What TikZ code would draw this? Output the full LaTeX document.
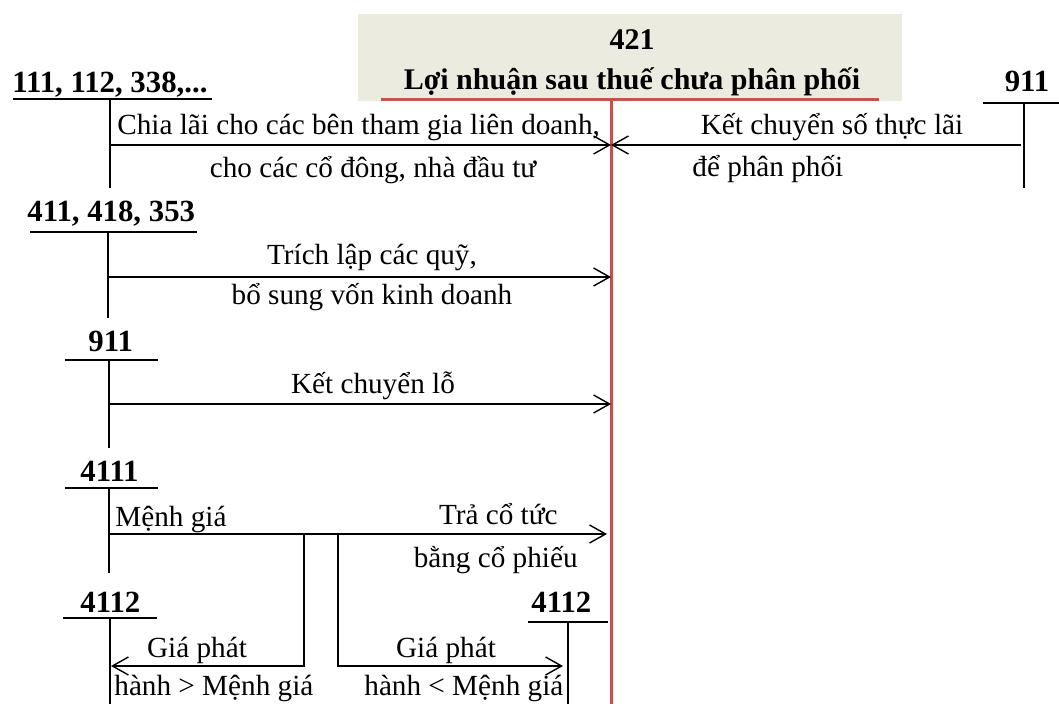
\documentclass[tikz,border=0pt]{standalone}
\usepackage{fontspec}
\setmainfont{Liberation Serif}
\usetikzlibrary{arrows.meta}
\definecolor{titlefill}{RGB}{235,235,224}
\definecolor{acctred}{RGB}{196,82,80}
\begin{document}
\begin{tikzpicture}[x=0.5pt,y=-0.5pt,
  font=\fontsize{14.6}{17}\selectfont,
  acct/.style={font=\fontsize{15.4}{18}\selectfont\bfseries, inner sep=0pt},
  ttl/.style={font=\fontsize{15}{18}\selectfont\bfseries, inner sep=0pt},
  lbl/.style={inner sep=0pt},
  tline/.style={line width=0.9pt},
  redline/.style={line width=1.5pt, draw=acctred},
  flow/.style={line width=0.8pt, -{Straight Barb[length=8pt,width=9pt,line width=0.7pt]}},
  plain/.style={line width=0.8pt}]
\useasboundingbox (0,0) rectangle (1059,704);

% title panel of account 421
\fill[titlefill] (358,14) rectangle (902,101);
\node[ttl, anchor=base] (n421) at (632,50) {421};
\node[ttl, anchor=base] (t421) at (632,90) {Lợi nhuận sau thuế chưa phân phối};
\coordinate (r421L) at (381,100);
\coordinate (r421R) at (879,100);
\coordinate (r421T) at (611,100);
\coordinate (r421B) at (611,704);
\draw[redline] (r421L) -- (r421R);
\draw[redline] (r421T) -- (r421B);
% points where the flows meet account 421
\coordinate (in1) at (611,145);
\coordinate (in2) at (611,277);
\coordinate (in3) at (611,404);
\coordinate (in4) at (607,534);

% account 111, 112, 338
\node[acct, anchor=base west] (a111) at (12,93) {111, 112, 338,...};
\coordinate (a111L) at (13,99);
\coordinate (a111R) at (212,99);
\coordinate (a111T) at (110,99);
\coordinate (a111B) at (110,188);
\coordinate (a111F) at (110,145);
\draw[tline] (a111L) -- (a111R);
\draw[plain] (a111T) -- (a111B);
\draw[flow] (a111F) -- (in1);
\node[lbl, anchor=base west] (l1a) at (117,135) {Chia lãi cho các bên tham gia liên doanh,};
\node[lbl, anchor=base] (l1b) at (373,178) {cho các cổ đông, nhà đầu tư};

% account 911 (right)
\node[acct, anchor=base] (a911r) at (1027,92) {911};
\coordinate (a911rL) at (983,103);
\coordinate (a911rR) at (1059,103);
\coordinate (a911rT) at (1024,103);
\coordinate (a911rB) at (1024,188);
\coordinate (a911rF) at (1021,145);
\draw[tline] (a911rL) -- (a911rR);
\draw[plain] (a911rT) -- (a911rB);
\draw[flow] (a911rF) -- (in1);
\node[lbl, anchor=base] (l2a) at (832,135) {Kết chuyển số thực lãi};
\node[lbl, anchor=base west] (l2b) at (692,177) {để phân phối};

% account 411, 418, 353
\node[acct, anchor=base west] (a411) at (27,222) {411, 418, 353};
\coordinate (a411L) at (30,232);
\coordinate (a411R) at (197,232);
\coordinate (a411T) at (108,232);
\coordinate (a411B) at (108,318);
\coordinate (a411F) at (108,277);
\draw[tline] (a411L) -- (a411R);
\draw[plain] (a411T) -- (a411B);
\draw[flow] (a411F) -- (in2);
\node[lbl, anchor=base] (l3a) at (372,265) {Trích lập các quỹ,};
\node[lbl, anchor=base] (l3b) at (372,305) {bổ sung vốn kinh doanh};

% account 911 (left)
\node[acct, anchor=base west] (a911l) at (88,352) {911};
\coordinate (a911lL) at (65,360);
\coordinate (a911lR) at (158,360);
\coordinate (a911lT) at (109,360);
\coordinate (a911lB) at (109,448);
\coordinate (a911lF) at (109,404);
\draw[tline] (a911lL) -- (a911lR);
\draw[plain] (a911lT) -- (a911lB);
\draw[flow] (a911lF) -- (in3);
\node[lbl, anchor=base] (l4) at (373,394) {Kết chuyển lỗ};

% account 4111
\node[acct, anchor=base west] (a4111) at (80,482) {4111};
\coordinate (a4111L) at (65,488);
\coordinate (a4111R) at (158,488);
\coordinate (a4111T) at (109,488);
\coordinate (a4111B) at (109,573);
\coordinate (a4111F) at (109,534);
\draw[tline] (a4111L) -- (a4111R);
\draw[plain] (a4111T) -- (a4111B);
\draw[flow] (a4111F) -- (in4);
\node[lbl, anchor=base west] (l5a) at (115,527) {Mệnh giá};
\node[lbl, anchor=base east] (l5b) at (558,525) {Trả cổ tức};
\node[lbl, anchor=base east] (l5c) at (578,568) {bằng cổ phiếu};

% account 4112 (left)
\node[acct, anchor=base west] (a4112l) at (80,612) {4112};
\coordinate (a4112lL) at (63,618);
\coordinate (a4112lR) at (157,618);
\coordinate (a4112lT) at (110,618);
\coordinate (a4112lB) at (110,704);
\coordinate (a4112lF) at (111,666);
\draw[tline] (a4112lL) -- (a4112lR);
\draw[plain] (a4112lT) -- (a4112lB);

% account 4112 (right)
\node[acct, anchor=base west] (a4112r) at (531,612) {4112};
\coordinate (a4112rL) at (528,622);
\coordinate (a4112rR) at (608,622);
\coordinate (a4112rT) at (568,622);
\coordinate (a4112rB) at (568,704);
\coordinate (a4112rF) at (563,666);
\draw[tline] (a4112rL) -- (a4112rR);
\draw[plain] (a4112rT) -- (a4112rB);

% issue-price difference branches
\coordinate (brA) at (304,534);
\coordinate (brB) at (338,534);
\draw[flow] (brA) |- (a4112lF);
\draw[flow] (brB) |- (a4112rF);
\node[lbl, anchor=base] (l6a) at (197,657) {Giá phát};
\node[lbl, anchor=base west] (l6b) at (114,695) {hành > Mệnh giá};
\node[lbl, anchor=base] (l7a) at (446,657) {Giá phát};
\node[lbl, anchor=base west] (l7b) at (364,695) {hành < Mệnh giá};
\end{tikzpicture}
\end{document}
